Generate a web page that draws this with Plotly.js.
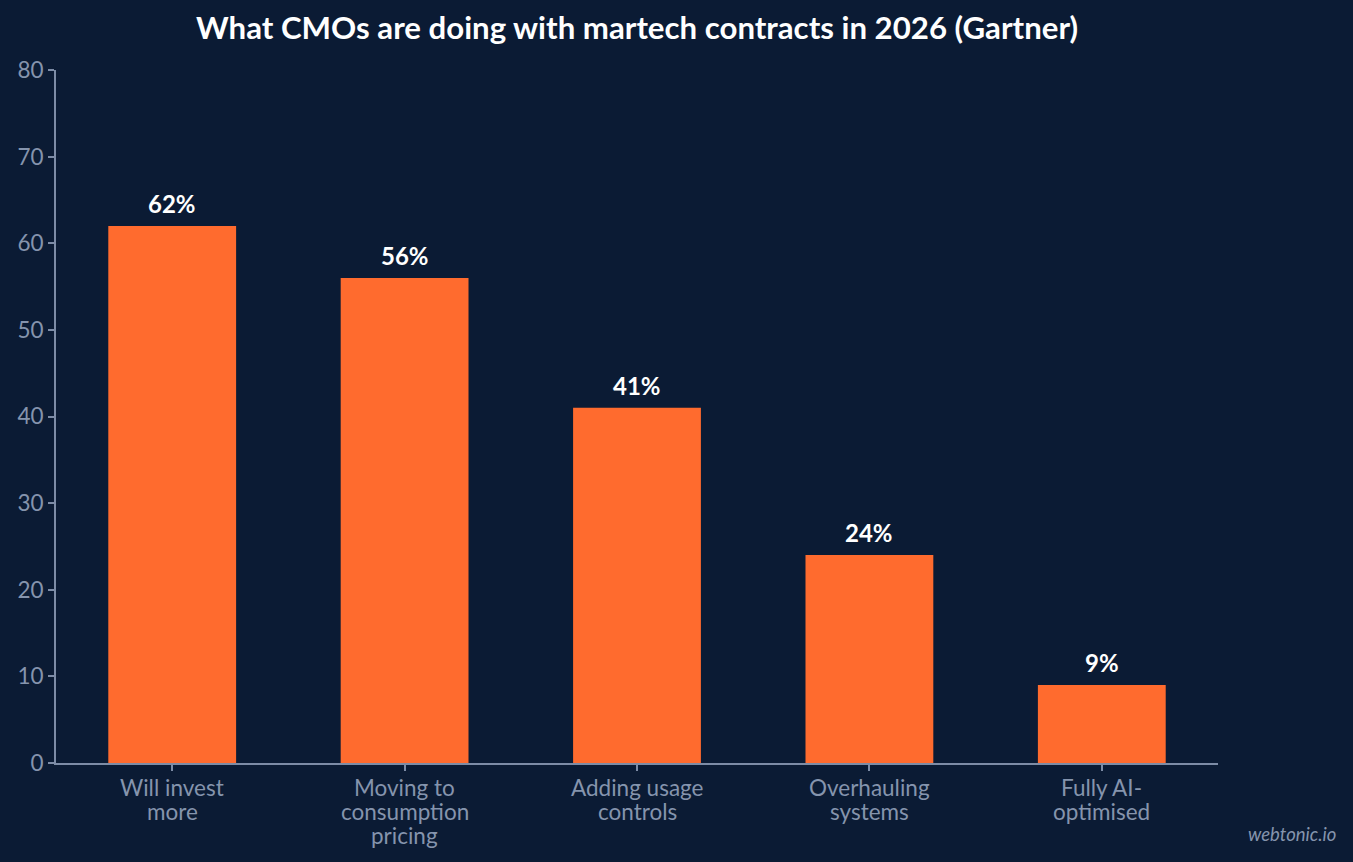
<!DOCTYPE html>
<html>
<head>
<meta charset="utf-8">
<script src="https://cdn.plot.ly/plotly-3.0.1.min.js"></script>
<style>html,body{margin:0;padding:0;background:#0b1b34;}#chart{width:1353px;height:862px;}</style>
</head>
<body>
<div id="chart"></div>
<script>
const categories = ["Will invest more", "Moving to consumption pricing", "Adding usage controls", "Overhauling systems", "Fully AI-optimised"];
const categoryLines = [["Will invest", "more"], ["Moving to", "consumption", "pricing"], ["Adding usage", "controls"], ["Overhauling", "systems"], ["Fully AI-", "optimised"]];
const values = [62, 56, 41, 24, 9];
const yTicks = [0, 10, 20, 30, 40, 50, 60, 70, 80];

const bg = "#0b1b34";
const axisColor = "#7d8ca6";
const tickFontColor = "#8594ad";

const trace = {
  type: "bar",
  x: categories,
  y: values,
  marker: {color: "#ff6b2e", line: {width: 0}},
  hoverinfo: "skip"
};

const labelAnnotations = categories.map((c, i) => ({
  x: c, y: values[i], xref: "x", yref: "y",
  text: "<b>" + values[i] + "%</b>",
  showarrow: false, xanchor: "center", yanchor: "bottom", yshift: 6,
  font: {family: "Lato, sans-serif", size: 24, color: "#ffffff"}
}));

const tickAnnotations = [];
categories.forEach((c, i) => {
  categoryLines[i].forEach((line, j) => {
    tickAnnotations.push({
      x: c, y: 0, xref: "x", yref: "paper",
      text: line, showarrow: false, xanchor: "center", yanchor: "middle",
      yshift: -(24 + 24 * j),
      font: {family: "Lato, sans-serif", size: 22.5, color: tickFontColor}
    });
  });
});

const layout = {
  width: 1353, height: 862,
  paper_bgcolor: bg, plot_bgcolor: bg,
  margin: {l: 56, r: 135, t: 70, b: 99},
  font: {family: "Lato, sans-serif", color: tickFontColor},
  title: {text: "<b>What CMOs are doing with martech contracts in 2026 (Gartner)</b>",
          font: {family: "Lato, sans-serif", size: 31.2, color: "#ffffff"},
          x: 0.5, xref: "paper", xanchor: "center", y: 0.967, yref: "container", yanchor: "middle"},
  bargap: 0.45,
  showlegend: false,
  xaxis: {
    showgrid: false, zeroline: false,
    showline: true, linecolor: axisColor, linewidth: 2,
    ticks: "outside", ticklen: 6, tickwidth: 2, tickcolor: axisColor,
    showticklabels: false
  },
  yaxis: {
    range: [0, 80], tickvals: yTicks,
    showgrid: false, zeroline: false,
    showline: true, linecolor: axisColor, linewidth: 2,
    ticks: "outside", ticklen: 6, tickwidth: 2, tickcolor: axisColor,
    tickfont: {family: "Lato, sans-serif", size: 22.5, color: tickFontColor}
  },
  annotations: labelAnnotations.concat(tickAnnotations, [{
    text: "<i>webtonic.io</i>", xref: "paper", yref: "paper",
    x: 1.1033, y: -0.103, xanchor: "right", yanchor: "middle", showarrow: false,
    font: {family: "Lato, sans-serif", size: 18.5, color: "#8594ad"}
  }])
};

Plotly.newPlot("chart", [trace], layout, {displayModeBar: false, responsive: false});
</script>
</body>
</html>
